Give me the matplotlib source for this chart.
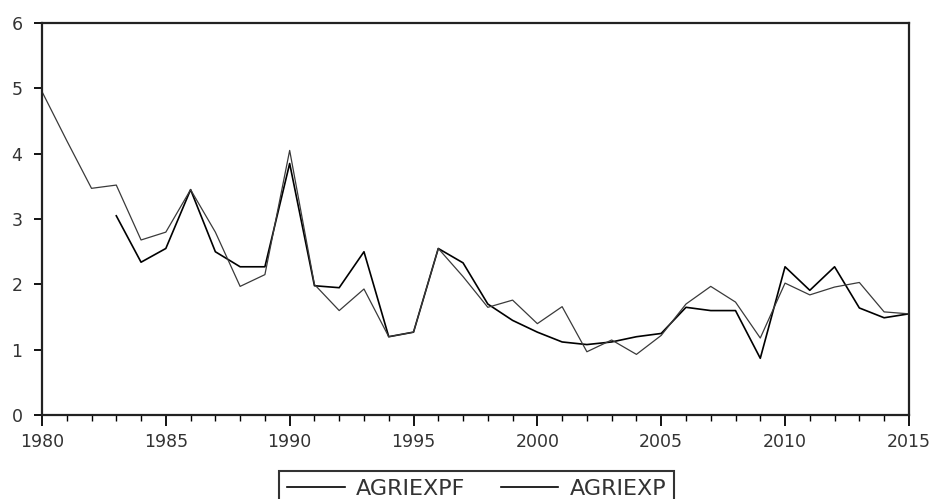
import numpy as np
import matplotlib
matplotlib.use("Agg")
import matplotlib.pyplot as plt
from matplotlib.ticker import MultipleLocator

# annual series, 1980-2015
years = np.arange(1980, 2016)

# actual values
agriexp = [4.95, 4.20, 3.47, 3.52, 2.68, 2.80, 3.45, 2.80, 1.97, 2.15,
           4.05, 2.00, 1.60, 1.93, 1.20, 1.27, 2.55, 2.12, 1.65, 1.76,
           1.40, 1.66, 0.97, 1.15, 0.93, 1.22, 1.70, 1.97, 1.73, 1.18,
           2.02, 1.84, 1.96, 2.03, 1.58, 1.55]

# fitted / forecast values (start in 1983)
agriexpf = [np.nan, np.nan, np.nan, 3.05, 2.34, 2.55, 3.45, 2.50, 2.27, 2.27,
            3.85, 1.98, 1.95, 2.50, 1.20, 1.27, 2.55, 2.33, 1.70, 1.45,
            1.27, 1.12, 1.08, 1.12, 1.20, 1.25, 1.65, 1.60, 1.60, 0.87,
            2.27, 1.91, 2.27, 1.64, 1.49, 1.55]

fig = plt.figure(figsize=(9.37, 4.99), dpi=100)
ax = fig.add_axes([0.0448, 0.168, 0.9252, 0.786])

ax.plot(years, agriexpf, color="black", lw=1.2, label="AGRIEXPF")
ax.plot(years, agriexp, color="#3a3a3a", lw=0.9, label="AGRIEXP")

ax.set_xlim(1980, 2015)
ax.set_ylim(0, 6)
ax.xaxis.set_major_locator(MultipleLocator(5))
ax.xaxis.set_minor_locator(MultipleLocator(1))
ax.yaxis.set_major_locator(MultipleLocator(1))

for s in ax.spines.values():
    s.set_linewidth(1.6)
    s.set_color("#222222")

ax.tick_params(axis="x", which="major", direction="out", length=8, width=1.3,
               pad=5, labelsize=12.5, labelcolor="#333333")
ax.tick_params(axis="x", which="minor", direction="out", length=4, width=1.0)
ax.tick_params(axis="y", which="major", direction="out", length=6, width=1.3,
               pad=8, labelsize=12.5, labelcolor="#333333")

leg = ax.legend(loc="upper left", bbox_to_anchor=(279 / 937, 1 - 471 / 499),
                bbox_transform=fig.transFigure, ncol=2, frameon=True,
                fancybox=False, edgecolor="black", fontsize=16,
                handlelength=2.6, handletextpad=0.5, columnspacing=1.6,
                borderpad=0.35, borderaxespad=0)
leg.get_frame().set_linewidth(1.5)
for line in leg.get_lines():
    line.set_linewidth(1.2)
    line.set_color("black")
for t in leg.get_texts():
    t.set_color("#333333")

fig.savefig("out.png", dpi=100)
